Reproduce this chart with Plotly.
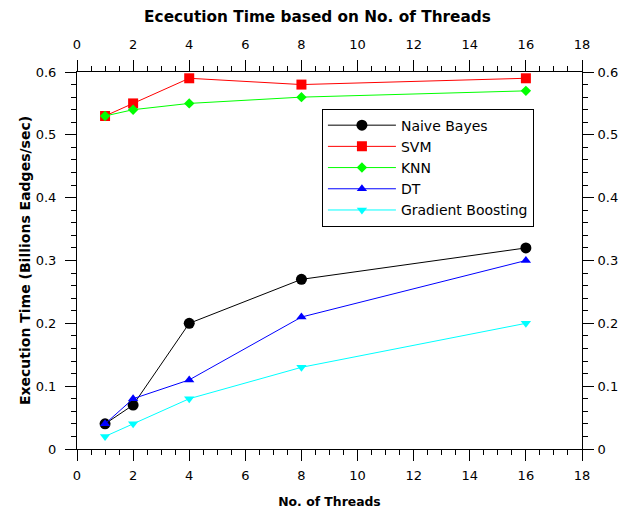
import plotly.graph_objects as go

threads = [1, 2, 4, 8, 16]
naive_bayes = [0.04, 0.07, 0.20, 0.27, 0.32]
svm = [0.53, 0.55, 0.59, 0.58, 0.59]
knn = [0.53, 0.54, 0.55, 0.56, 0.57]
dt = [0.04, 0.08, 0.11, 0.21, 0.30]
gradient_boosting = [0.02, 0.04, 0.08, 0.13, 0.20]

series = [
    ("Naive Bayes", naive_bayes, "black", "circle", 11),
    ("SVM", svm, "red", "square", 10),
    ("KNN", knn, "#00ff00", "diamond", 8),
    ("DT", dt, "blue", "triangle-up", 9),
    ("Gradient Boosting", gradient_boosting, "cyan", "triangle-down", 9),
]

fig = go.Figure()
for name, vals, color, sym, size in series:
    fig.add_trace(go.Scatter(x=threads, y=vals, name=name, mode="lines+markers",
                             line=dict(color=color, width=1),
                             marker=dict(symbol=sym, size=size, color=color)))

# invisible trace to anchor the mirrored axes
fig.add_trace(go.Scatter(x=threads, y=naive_bayes, xaxis="x2", yaxis="y2",
                         mode="markers", marker=dict(opacity=0), showlegend=False,
                         hoverinfo="skip"))

font = dict(family="DejaVu Sans", size=13, color="black")
minor_x = dict(dtick=0.5, ticklen=5, ticks="outside", tickcolor="black")
minor_y = dict(dtick=0.02, ticklen=5, ticks="outside", tickcolor="black")
axis_common = dict(showline=True, linecolor="black", linewidth=1, ticks="outside",
                   ticklen=11, tickcolor="black", showgrid=False, zeroline=False,
                   tickfont=font, automargin=False)

fig.update_layout(
    width=635, height=509,
    margin=dict(l=77, r=53, t=72, b=60),
    paper_bgcolor="white", plot_bgcolor="white",
    font=font,
    title=dict(text="<b>Ececution Time based on No. of Threads</b>",
               x=0.5, xanchor="center", y=0.968, yanchor="middle",
               font=dict(family="DejaVu Sans", size=15.3, color="black")),
    xaxis=dict(range=[0, 18], dtick=2, tick0=0, minor=minor_x, ticklabelstandoff=3,
               title=dict(text="<b>No. of Threads</b>", font=dict(size=12.4), standoff=15),
               **axis_common),
    xaxis2=dict(range=[0, 18], dtick=2, tick0=0, overlaying="x", side="top",
                anchor="y", minor=minor_x, ticklabelstandoff=6,
                **axis_common),
    yaxis=dict(range=[0, 0.6], dtick=0.1, tick0=0, minor=minor_y, ticklabelstandoff=6,
               title=dict(text="<b>Execution Time (Billions Eadges/sec)</b>",
                          font=dict(size=14), standoff=1),
               **axis_common),
    yaxis2=dict(range=[0, 0.6], dtick=0.1, tick0=0, overlaying="y", side="right",
                anchor="x", minor=minor_y, ticklabelstandoff=1,
                **axis_common),
    legend=dict(x=0.485, y=0.903, xanchor="left", yanchor="top",
                bordercolor="black", borderwidth=1, bgcolor="white",
                font=dict(family="DejaVu Sans", size=14, color="black"),
                tracegroupgap=0, itemwidth=68),
    showlegend=True,
)

fig.write_html("out.html")
